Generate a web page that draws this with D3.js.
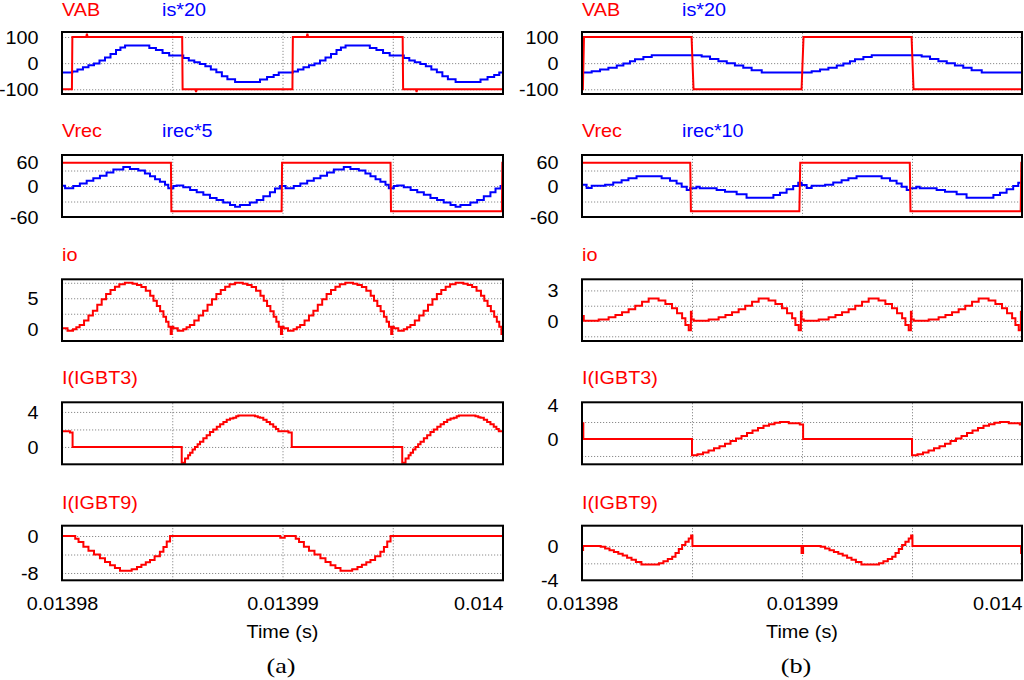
<!DOCTYPE html>
<html><head><meta charset="utf-8">
<script src="https://cdn.jsdelivr.net/npm/d3@7"></script>
<style>html,body{margin:0;padding:0;background:#fff}svg{display:block}</style>
</head><body>
<svg id="c" width="1024" height="680"></svg>
<script>
// ---------- time axis (seconds; series times are µs after 0.01398 s) ----------
const T0 = 0.01398, T1 = 0.014;
const timeTicks = [0.01398, 0.01399, 0.014];
const timeLabels = ["0.01398", "0.01399", "0.014"];
const timeGrid = [0.013985, 0.01399, 0.013995];

// ---------- y grids / tick labels ----------
const vabGrid = [100, 0, -100], vabTicks = [100, 0, -100];
const vrecGrid = [30, 0, -30], vrecTicks = [60, 0, -60];
const ioGridA = [7.5, 5, 2.5, 0], ioTicksA = [5, 0];
const ioGridB = [3, 1.5, 0, -1.5], ioTicksB = [3, 0];
const igbt3GridA = [4, 2, 0], igbt3TicksA = [4, 0];
const igbt3GridB = [2, 0, -2], igbt3TicksB = [4, 0];
const igbt9GridA = [0, -4, -8], igbt9TicksA = [0, -8];
const igbt9GridB = [0, -2], igbt9TicksB = [0, -4];

// ---------- (a) series [t µs, value] ----------
const vabA = [[0,-100],[0.45,-100],[0.47,100],[1.1,100],[1.13,112],[1.16,100],[5.45,100],[5.47,-100],[6.05,-100],[6.08,-110],[6.11,-100],[10.45,-100],[10.47,100],[11.1,100],[11.13,112],[11.16,100],[15.45,100],[15.47,-100],[16.05,-100],[16.08,-110],[16.11,-100],[20,-100]];
const isA = [[0,-36],[0.47,-32],[0.7,-24],[0.95,-16],[1.2,-8],[1.45,-1],[1.7,10],[1.95,22],[2.2,35],[2.45,50],[2.65,60],[2.86,67],[3.96,58],[4.26,50],[4.56,39],[4.86,29],[5.5,20],[5.75,10],[6.0,3],[6.25,-3],[6.5,-12],[6.75,-24],[7.0,-35],[7.25,-50],[7.5,-62],[7.85,-72],[8.98,-63],[9.3,-53],[9.6,-45],[9.83,-36],
 [10.47,-32],[10.7,-24],[10.95,-16],[11.2,-8],[11.45,-1],[11.7,10],[11.95,22],[12.2,35],[12.45,50],[12.65,60],[12.86,67],[13.96,58],[14.26,50],[14.56,39],[14.86,29],[15.5,20],[15.75,10],[16.0,3],[16.25,-3],[16.5,-12],[16.75,-24],[17.0,-35],[17.25,-50],[17.5,-62],[17.85,-72],[18.98,-63],[19.3,-53],[19.6,-45],[19.83,-36],[20,-36]];
const vrecA = [[0,45],[4.94,45],[4.96,-49],[9.96,-49],[9.98,45],[14.9,45],[14.92,-49],[19.95,-49],[19.97,45],[20,45]];
const irecA = [[0,0.6],[0.14,-4.5],[0.51,0],[0.81,5],[1.12,10],[1.42,15],[1.72,20],[2.02,26],[2.33,32],[2.78,37],[3.08,33],[3.46,30],[3.76,24],[3.99,19],[4.22,13],[4.44,8],[4.67,2.6],[4.82,-4.5],[5.05,0],[5.2,1],[5.5,-2.6],[5.81,-7.7],[6.11,-12],[6.41,-17],[6.71,-23],[7.01,-27],[7.31,-32],[7.62,-37],[7.85,-40],[8.07,-37],[8.52,-32],[8.83,-27],[9.13,-20],[9.43,-12],[9.66,-5],[9.89,0],
 [10.14,-4.5],[10.51,0],[10.81,5],[11.12,10],[11.42,15],[11.72,20],[12.02,26],[12.33,32],[12.78,37],[13.08,33],[13.46,30],[13.76,24],[13.99,19],[14.22,13],[14.44,8],[14.67,2.6],[14.82,-4.5],[15.05,0],[15.2,1],[15.5,-2.6],[15.81,-7.7],[16.11,-12],[16.41,-17],[16.71,-23],[17.01,-27],[17.31,-32],[17.62,-37],[17.85,-40],[18.07,-37],[18.52,-32],[18.83,-27],[19.13,-20],[19.43,-12],[19.66,-5],[19.89,0],[20,0]];
const ioA = [[0,0.16],[0.25,-0.25],[0.5,0],[0.65,0.3],[0.8,0.7],[1.0,1.4],[1.2,2.2],[1.4,3.0],[1.6,3.95],[1.8,4.85],[2.0,5.7],[2.2,6.35],[2.4,6.85],[2.6,7.25],[2.85,7.5],[3.2,7.35],[3.4,7.15],[3.6,6.8],[3.8,6.2],[4.0,5.4],[4.15,4.6],[4.3,3.75],[4.45,2.9],[4.6,2.0],[4.72,1.2],[4.83,0.4],[4.93,-0.75],[4.98,0.4],
 [5.05,0.16],[5.25,-0.25],[5.5,0],[5.65,0.3],[5.8,0.7],[6.0,1.4],[6.2,2.2],[6.4,3.0],[6.6,3.95],[6.8,4.85],[7.0,5.7],[7.2,6.35],[7.4,6.85],[7.6,7.25],[7.85,7.5],[8.2,7.35],[8.4,7.15],[8.6,6.8],[8.8,6.2],[9.0,5.4],[9.15,4.6],[9.3,3.75],[9.45,2.9],[9.6,2.0],[9.72,1.2],[9.83,0.4],[9.93,-0.75],[9.98,0.4],
 [10.05,0.16],[10.25,-0.25],[10.5,0],[10.65,0.3],[10.8,0.7],[11.0,1.4],[11.2,2.2],[11.4,3.0],[11.6,3.95],[11.8,4.85],[12.0,5.7],[12.2,6.35],[12.4,6.85],[12.6,7.25],[12.85,7.5],[13.2,7.35],[13.4,7.15],[13.6,6.8],[13.8,6.2],[14.0,5.4],[14.15,4.6],[14.3,3.75],[14.45,2.9],[14.6,2.0],[14.72,1.2],[14.83,0.4],[14.93,-0.75],[14.98,0.4],
 [15.05,0.16],[15.25,-0.25],[15.5,0],[15.65,0.3],[15.8,0.7],[16.0,1.4],[16.2,2.2],[16.4,3.0],[16.6,3.95],[16.8,4.85],[17.0,5.7],[17.2,6.35],[17.4,6.85],[17.6,7.25],[17.85,7.5],[18.2,7.35],[18.4,7.15],[18.6,6.8],[18.8,6.2],[19.0,5.4],[19.15,4.6],[19.3,3.75],[19.45,2.9],[19.6,2.0],[19.72,1.2],[19.83,0.4],[19.93,-0.75],[20,-0.75]];
const igbt3A = [[0,1.8],[0.36,1.64],[0.48,0],[5.43,-1.8],[5.58,-1.33],[5.72,-0.95],[5.81,-0.65],[5.92,-0.3],[6.03,0],[6.15,0.3],[6.26,0.6],[6.41,1.0],[6.56,1.33],[6.71,1.7],[6.86,2.0],[7.02,2.3],[7.17,2.6],[7.32,2.85],[7.47,3.1],[7.62,3.25],[7.77,3.35],[7.9,3.5],[8.0,3.6],[8.75,3.5],[8.88,3.4],[8.98,3.35],[9.13,3.1],[9.28,2.85],[9.43,2.6],[9.58,2.3],[9.7,2.05],[9.81,1.8],[10.27,1.64],[10.42,0],
 [15.43,-1.8],[15.58,-1.33],[15.72,-0.95],[15.81,-0.65],[15.92,-0.3],[16.03,0],[16.15,0.3],[16.26,0.6],[16.41,1.0],[16.56,1.33],[16.71,1.7],[16.86,2.0],[17.02,2.3],[17.17,2.6],[17.32,2.85],[17.47,3.1],[17.62,3.25],[17.77,3.35],[17.9,3.5],[18.0,3.6],[18.75,3.5],[18.88,3.4],[18.98,3.35],[19.13,3.1],[19.28,2.85],[19.43,2.6],[19.58,2.3],[19.7,2.05],[19.81,1.8],[20,1.8]];
const igbt9A = [[0,0],[0.44,0],[0.6,-0.6],[0.75,-1.3],[0.97,-2.3],[1.2,-3.2],[1.45,-4.0],[1.72,-4.8],[1.95,-5.6],[2.18,-6.3],[2.4,-6.9],[2.63,-7.5],[3.16,-7.2],[3.4,-6.7],[3.6,-6.2],[3.8,-5.7],[3.99,-5.2],[4.2,-4.4],[4.44,-3.4],[4.6,-2.4],[4.75,-1.2],[4.9,0],[9.9,-0.4],[10.1,0],[10.44,0],
 [10.6,-0.6],[10.75,-1.3],[10.97,-2.3],[11.2,-3.2],[11.45,-4.0],[11.72,-4.8],[11.95,-5.6],[12.18,-6.3],[12.4,-6.9],[12.63,-7.5],[13.16,-7.2],[13.4,-6.7],[13.6,-6.2],[13.8,-5.7],[13.99,-5.2],[14.2,-4.4],[14.44,-3.4],[14.6,-2.4],[14.75,-1.2],[14.9,0],[20,0]];

// ---------- (b) series ----------
const vabB = [[0,-100],[0.04,-100],[0.09,100],[4.98,100],[5.07,-100],[9.98,-100],[10.07,100],[14.98,100],[15.07,-100],[20,-100]];
const isB = [[0,-36],[0.44,-31],[0.82,-24],[1.2,-18],[1.58,-9],[1.88,-1.5],[2.18,7.6],[2.41,15],[2.79,23],[3.17,30.5],[5.44,25],[5.82,16],[6.2,7.6],[6.58,0],[6.95,-9],[7.33,-18],[7.71,-27],[8.17,-36],
 [10.44,-31],[10.82,-24],[11.2,-18],[11.58,-9],[11.88,-1.5],[12.18,7.6],[12.41,15],[12.79,23],[13.17,30.5],[15.44,25],[15.82,16],[16.2,7.6],[16.58,0],[16.95,-9],[17.33,-18],[17.71,-27],[18.17,-36],[20,-36]];
const vrecB = [[0,45],[4.92,45],[4.95,-49],[9.88,-49],[9.92,45],[14.9,45],[14.93,-49],[19.94,-49],[19.97,45],[20,45]];
const irecB = [[0,2.6],[0.21,-3.9],[0.44,0.6],[1.05,2.6],[1.42,7],[1.8,11],[2.11,15],[2.48,18.7],[3.62,15],[4.0,10],[4.3,5],[4.53,-1.3],[4.76,-7.7],[4.91,-4.5],[5.2,-1.5],[5.35,-4.5],[6.12,-7.7],[6.5,-11],[7.03,-16],[7.48,-22.6],[8.7,-17.4],[9.0,-13],[9.3,-6.5],[9.6,0],[9.83,6.4],[9.98,1.9],
 [10.21,-3.9],[10.44,0.6],[11.05,2.6],[11.42,7],[11.8,11],[12.11,15],[12.48,18.7],[13.62,15],[14.0,10],[14.3,5],[14.53,-1.3],[14.76,-7.7],[14.91,-4.5],[15.2,-1.5],[15.35,-4.5],[16.12,-7.7],[16.5,-11],[17.03,-16],[17.48,-22.6],[18.7,-17.4],[19.0,-13],[19.3,-6.5],[19.6,0],[19.83,6.4],[20,6.4]];
const ioB = [[0,0.5],[0.08,0.03],[0.76,0.16],[1.21,0.36],[1.52,0.6],[1.82,0.85],[2.12,1.15],[2.42,1.5],[2.73,1.9],[3.03,2.2],[3.48,2.0],[3.79,1.67],[4.09,1.25],[4.32,0.75],[4.55,0.26],[4.7,-0.4],[4.85,-0.9],[4.95,0.9],[4.98,0.16],
 [5.08,0.03],[5.76,0.16],[6.21,0.36],[6.52,0.6],[6.82,0.85],[7.12,1.15],[7.42,1.5],[7.73,1.9],[8.03,2.2],[8.48,2.0],[8.79,1.67],[9.09,1.25],[9.32,0.75],[9.55,0.26],[9.7,-0.4],[9.85,-0.9],[9.95,0.9],[9.98,0.16],
 [10.08,0.03],[10.76,0.16],[11.21,0.36],[11.52,0.6],[11.82,0.85],[12.12,1.15],[12.42,1.5],[12.73,1.9],[13.03,2.2],[13.48,2.0],[13.79,1.67],[14.09,1.25],[14.32,0.75],[14.55,0.26],[14.7,-0.4],[14.85,-0.9],[14.95,0.9],[14.98,0.16],
 [15.08,0.03],[15.76,0.16],[16.21,0.36],[16.52,0.6],[16.82,0.85],[17.12,1.15],[17.42,1.5],[17.73,1.9],[18.03,2.2],[18.48,2.0],[18.79,1.67],[19.09,1.25],[19.32,0.75],[19.55,0.26],[19.7,-0.4],[19.85,-0.9],[19.95,0.9],[20,0.9]];
const igbt3B = [[0,1.85],[0.06,0],[5.0,-1.9],[5.25,-1.8],[5.5,-1.6],[5.75,-1.35],[6.0,-1.1],[6.25,-0.85],[6.5,-0.55],[6.75,-0.25],[7.0,0.05],[7.25,0.35],[7.5,0.7],[7.75,1.0],[8.0,1.3],[8.25,1.55],[8.5,1.75],[8.75,1.9],[9.0,2.0],[9.4,1.85],[9.9,1.7],[10.05,0],
 [15.0,-1.9],[15.25,-1.8],[15.5,-1.6],[15.75,-1.35],[16.0,-1.1],[16.25,-0.85],[16.5,-0.55],[16.75,-0.25],[17.0,0.05],[17.25,0.35],[17.5,0.7],[17.75,1.0],[18.0,1.3],[18.25,1.55],[18.5,1.75],[18.75,1.9],[19.0,2.0],[19.4,1.85],[19.9,1.7],[20,1.7]];
const igbt9B = [[0,-0.45],[0.05,0],[0.85,-0.1],[1.05,-0.3],[1.25,-0.5],[1.45,-0.7],[1.65,-0.9],[1.85,-1.1],[2.05,-1.35],[2.25,-1.6],[2.45,-1.85],[2.7,-2.15],[3.5,-2.0],[3.7,-1.75],[3.9,-1.5],[4.1,-1.25],[4.25,-0.8],[4.4,-0.35],[4.55,0.1],[4.7,0.5],[4.85,0.85],[4.96,1.2],[5.02,0],[9.98,-0.8],[10.05,0],
 [10.85,-0.1],[11.05,-0.3],[11.25,-0.5],[11.45,-0.7],[11.65,-0.9],[11.85,-1.1],[12.05,-1.35],[12.25,-1.6],[12.45,-1.85],[12.7,-2.15],[13.5,-2.0],[13.7,-1.75],[13.9,-1.5],[14.1,-1.25],[14.25,-0.8],[14.4,-0.35],[14.55,0.1],[14.7,0.5],[14.85,0.85],[14.96,1.2],[15.02,0],[19.96,-0.8],[20,-0.8]];

// ---------- layout / styles ----------
const RED = "#ff0000", BLUE = "#0000ff";
const FONT = '"Liberation Sans", Arial, Helvetica, sans-serif';
const FS = 18, SX = 1.1;
const rows = [{top:32,bottom:94,tb:16.3},{top:155,bottom:217,tb:137},{top:279.3,bottom:341,tb:261},{top:402.3,bottom:464.3,tb:384},{top:525.7,bottom:580.3,tb:508.5}];

const columns = [
  {x0:62, x1:503, caption:"(a)", capX:281, panels:[
    {titles:[["VAB",RED],["is*20",BLUE]], domain:[-118,119], grid:vabGrid, ticks:vabTicks, series:[[isA,BLUE,true],[vabA,RED,false]]},
    {titles:[["Vrec",RED],["irec*5",BLUE]], domain:[-60,60], grid:vrecGrid, ticks:vrecTicks, series:[[irecA,BLUE,true],[vrecA,RED,false]]},
    {titles:[["io",RED]], domain:[-1.9,8.06], grid:ioGridA, ticks:ioTicksA, series:[[ioA,RED,true]]},
    {titles:[["I(IGBT3)",RED]], domain:[-1.98,5.1], grid:igbt3GridA, ticks:igbt3TicksA, series:[[igbt3A,RED,true]]},
    {titles:[["I(IGBT9)",RED]], domain:[-9.58,2.23], grid:igbt9GridA, ticks:igbt9TicksA, series:[[igbt9A,RED,true]]}
  ]},
  {x0:582, x1:1022, caption:"(b)", capX:796, panels:[
    {titles:[["VAB",RED],["is*20",BLUE]], domain:[-118,119], grid:vabGrid, ticks:vabTicks, series:[[isB,BLUE,true],[vabB,RED,false]]},
    {titles:[["Vrec",RED],["irec*10",BLUE]], domain:[-60,60], grid:vrecGrid, ticks:vrecTicks, series:[[irecB,BLUE,true],[vrecB,RED,false]]},
    {titles:[["io",RED]], domain:[-1.96,4.09], grid:ioGridB, ticks:ioTicksB, series:[[ioB,RED,true]]},
    {titles:[["I(IGBT3)",RED]], domain:[-2.98,4.32], grid:igbt3GridB, ticks:igbt3TicksB, series:[[igbt3B,RED,true]]},
    {titles:[["I(IGBT9)",RED]], domain:[-3.96,2.34], grid:igbt9GridB, ticks:igbt9TicksB, series:[[igbt9B,RED,true]]}
  ]}
];

const svg = d3.select("#c");
svg.append("rect").attr("width",1024).attr("height",680).attr("fill","#fff");
const defs = svg.append("defs");

function styleGrid(g){
  g.select(".domain").remove();
  g.selectAll("line").attr("stroke","#8c8c8c").attr("stroke-width",1).attr("stroke-dasharray","1.2,1.8");
}

columns.forEach((col, ci) => {
  const x = d3.scaleLinear().domain([T0, T1]).range([col.x0, col.x1]);
  const w = col.x1 - col.x0;
  col.panels.forEach((p, pi) => {
    const r = rows[pi];
    const h = r.bottom - r.top;
    const y = d3.scaleLinear().domain(p.domain).range([r.bottom, r.top]);
    const g = svg.append("g");

    // grids
    const gy = g.append("g").attr("transform",`translate(${col.x0},0)`)
      .call(d3.axisLeft(y).tickValues(p.grid).tickSize(-w).tickFormat(""));
    styleGrid(gy);
    const gv = g.append("g").attr("transform",`translate(0,${r.bottom})`)
      .call(d3.axisBottom(x).tickValues(timeGrid).tickSize(-h).tickFormat(""));
    styleGrid(gv);

    // series
    const id = `clip${ci}_${pi}`;
    defs.append("clipPath").attr("id", id).append("rect")
      .attr("x", col.x0).attr("y", r.top).attr("width", w).attr("height", h);
    const sg = g.append("g").attr("clip-path", `url(#${id})`);
    p.series.forEach(([data, color, step]) => {
      const line = d3.line()
        .x(d => x(T0 + d[0] * 1e-6))
        .y(d => y(d[1]))
        .curve(step ? d3.curveStepAfter : d3.curveLinear);
      sg.append("path").datum(data).attr("d", line)
        .attr("fill","none").attr("stroke", color).attr("stroke-width", 2)
        .attr("stroke-linejoin","miter");
    });

    // frame
    g.append("rect").attr("x", col.x0).attr("y", r.top).attr("width", w).attr("height", h)
      .attr("fill","none").attr("stroke","#000").attr("stroke-width",2);

    // y tick labels
    const pad = 23.5;
    const ga = g.append("g").attr("transform",`translate(${col.x0},0)`)
      .call(d3.axisLeft(y).tickValues(p.ticks).tickSize(0).tickPadding(pad).tickFormat(d => String(d)));
    ga.select(".domain").remove();
    ga.attr("font-size", FS).attr("font-family", FONT);
    ga.selectAll("text").attr("fill","#000")
      .attr("x", -pad / SX).attr("transform", `scale(${SX},1)`)
      .attr("dy", d => d === p.domain[1] ? "0.74em" : "0.34em");

    // titles
    p.titles.forEach(([txt, color], k) => {
      g.append("text")
        .attr("transform", `translate(${col.x0 + k * 100},${r.tb}) scale(${SX},1)`)
        .attr("font-family", FONT).attr("font-size", FS).attr("fill", color).text(txt);
    });

    // time axis on last panel
    if (pi === col.panels.length - 1) {
      const gx = g.append("g").attr("transform",`translate(0,${r.bottom})`)
        .call(d3.axisBottom(x).tickValues(timeTicks).tickSize(0).tickPadding(17)
          .tickFormat((d, i) => timeLabels[i]));
      gx.select(".domain").remove();
      gx.attr("font-size", FS).attr("font-family", FONT);
      gx.selectAll("text").attr("fill","#000").attr("transform", `scale(${SX},1)`)
        .attr("text-anchor", (d, i) => i === timeTicks.length - 1 ? "end" : "middle");
      g.append("text")
        .attr("transform", `translate(${(col.x0 + col.x1) / 2},638) scale(${SX},1)`)
        .attr("text-anchor","middle").attr("font-family", FONT).attr("font-size", FS)
        .attr("fill","#000").text("Time (s)");
      g.append("text")
        .attr("transform", `translate(${col.capX},673) scale(1.25,1)`)
        .attr("text-anchor","middle").attr("font-family", '"Liberation Serif","Times New Roman",serif')
        .attr("font-size", 21).attr("fill","#000").text(col.caption);
    }
  });
});
</script>
</body></html>
